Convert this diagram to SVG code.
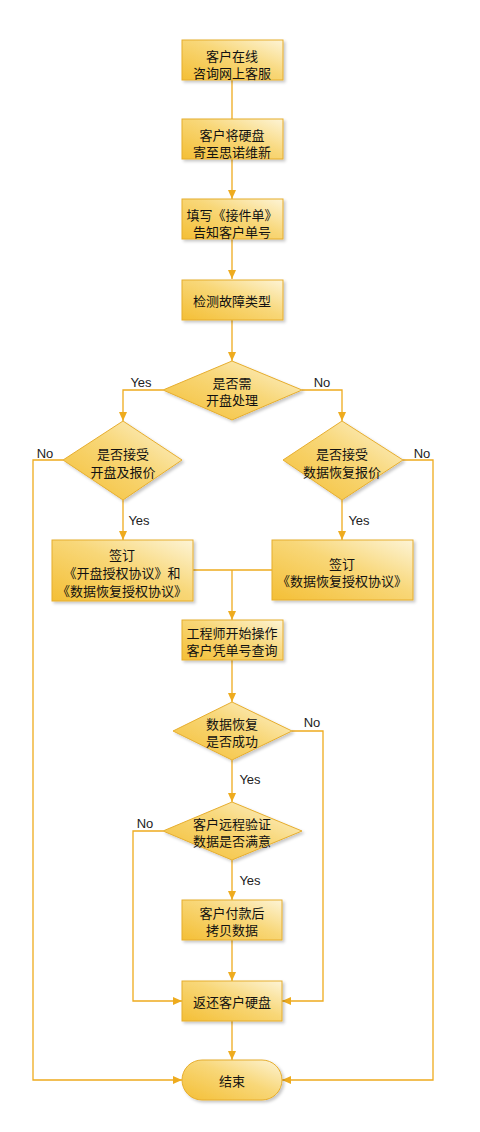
<svg xmlns="http://www.w3.org/2000/svg" width="480" height="1132" viewBox="0 0 480 1132">
<defs>
<linearGradient id="g" x1="0" y1="1" x2="1" y2="0">
<stop offset="0" stop-color="#f4bf36"/>
<stop offset="0.55" stop-color="#f8d778"/>
<stop offset="1" stop-color="#fdf4d6"/>
</linearGradient>
<filter id="sh" x="-10%" y="-10%" width="130%" height="140%">
<feDropShadow dx="2" dy="2" stdDeviation="1.5" flood-color="#000" flood-opacity="0.22"/>
</filter>
<marker id="ar" markerWidth="10" markerHeight="10" refX="9" refY="5" orient="auto" markerUnits="userSpaceOnUse">
<path d="M0,1 L9,5 L0,9 Z" fill="#eeab1e"/>
</marker>
</defs>
<style>
.n{fill:url(#g);stroke:#e6ad2e;stroke-width:1;filter:url(#sh)}
.t{font-family:"Noto Sans CJK SC","Liberation Sans",sans-serif;font-size:13px;fill:#111;text-anchor:middle;dominant-baseline:central}
.l{font-family:"Liberation Sans",sans-serif;font-size:13px;fill:#222;text-anchor:middle;dominant-baseline:central}
.c{fill:none;stroke:#eeab1e;stroke-width:1.3}
.a{marker-end:url(#ar)}
</style>
<rect width="480" height="1132" fill="#fff"/>
<g id="connectors">
<path class="c" d="M232,80 V119"/>
<path class="c a" d="M232,159 V199"/>
<path class="c a" d="M232,239 V279"/>
<path class="c a" d="M232,320 V361"/>
<path class="c a" d="M163,390 H123 V421"/>
<path class="c a" d="M302,390 H342 V421"/>
<path class="c a" d="M123,500 V540"/>
<path class="c a" d="M342,500 V540"/>
<path class="c" d="M193,570 H272"/>
<path class="c a" d="M232,570 V620"/>
<path class="c a" d="M232,660 V702"/>
<path class="c a" d="M232,760 V802"/>
<path class="c a" d="M232,860 V900"/>
<path class="c a" d="M232,940 V981"/>
<path class="c a" d="M232,1021 V1060"/>
<path class="c a" d="M292,731 H323 V1001 H282"/>
<path class="c a" d="M163,831 H133 V1001 H182"/>
<path class="c a" d="M63,460 H33 V1080 H182"/>
<path class="c a" d="M403,460 H433 V1080 H282"/>
<text class="l" x="141" y="382">Yes</text>
<text class="l" x="322" y="382">No</text>
<text class="l" x="45" y="453">No</text>
<text class="l" x="422" y="453">No</text>
<text class="l" x="139" y="520">Yes</text>
<text class="l" x="359" y="520">Yes</text>
<text class="l" x="312" y="722">No</text>
<text class="l" x="250" y="779">Yes</text>
<text class="l" x="145" y="823">No</text>
<text class="l" x="250" y="880">Yes</text>
</g>
<g id="n1"><rect class="n" x="182" y="40" width="101" height="40"/><text class="t" x="232" y="55">客户在线</text><text class="t" x="232" y="72">咨询网上客服</text></g>
<g id="n2"><rect class="n" x="182" y="119" width="101" height="40"/><text class="t" x="232" y="134">客户将硬盘</text><text class="t" x="232" y="151">寄至思诺维新</text></g>
<g id="n3"><rect class="n" x="182" y="199" width="101" height="40"/><text class="t" x="232" y="214">填写《接件单》</text><text class="t" x="232" y="231">告知客户单号</text></g>
<g id="n4"><rect class="n" x="182" y="280" width="101" height="40"/><text class="t" x="232" y="300">检测故障类型</text></g>
<g id="d1"><path class="n" d="M232,361 L302,390 L232,420 L163,390 Z"/><text class="t" x="232" y="382">是否需</text><text class="t" x="232" y="399">开盘处理</text></g>
<g id="d2"><path class="n" d="M123,421 L182,460 L123,500 L63,460 Z"/><text class="t" x="123" y="453">是否接受</text><text class="t" x="123" y="471">开盘及报价</text></g>
<g id="d3"><path class="n" d="M342,421 L403,460 L342,500 L283,460 Z"/><text class="t" x="342" y="453">是否接受</text><text class="t" x="342" y="471">数据恢复报价</text></g>
<g id="n5"><rect class="n" x="52" y="540" width="141" height="61"/><text class="t" x="122" y="554">签订</text><text class="t" x="122" y="572">《开盘授权协议》和</text><text class="t" x="122" y="590">《数据恢复授权协议》</text></g>
<g id="n6"><rect class="n" x="272" y="540" width="141" height="60"/><text class="t" x="342" y="563">签订</text><text class="t" x="342" y="580">《数据恢复授权协议》</text></g>
<g id="n7"><rect class="n" x="182" y="620" width="101" height="40"/><text class="t" x="232" y="632">工程师开始操作</text><text class="t" x="232" y="649">客户凭单号查询</text></g>
<g id="d4"><path class="n" d="M232,702 L292,731 L232,760 L173,731 Z"/><text class="t" x="232" y="723">数据恢复</text><text class="t" x="232" y="740">是否成功</text></g>
<g id="d5"><path class="n" d="M232,802 L302,831 L232,860 L163,831 Z"/><text class="t" x="232" y="823">客户远程验证</text><text class="t" x="232" y="840">数据是否满意</text></g>
<g id="n8"><rect class="n" x="182" y="900" width="100" height="40"/><text class="t" x="232" y="912">客户付款后</text><text class="t" x="232" y="929">拷贝数据</text></g>
<g id="n9"><rect class="n" x="182" y="981" width="100" height="40"/><text class="t" x="232" y="1001">返还客户硬盘</text></g>
<g id="end"><rect class="n" x="182" y="1060" width="100" height="40" rx="20" ry="20"/><text class="t" x="232" y="1080">结束</text></g>
</svg>
